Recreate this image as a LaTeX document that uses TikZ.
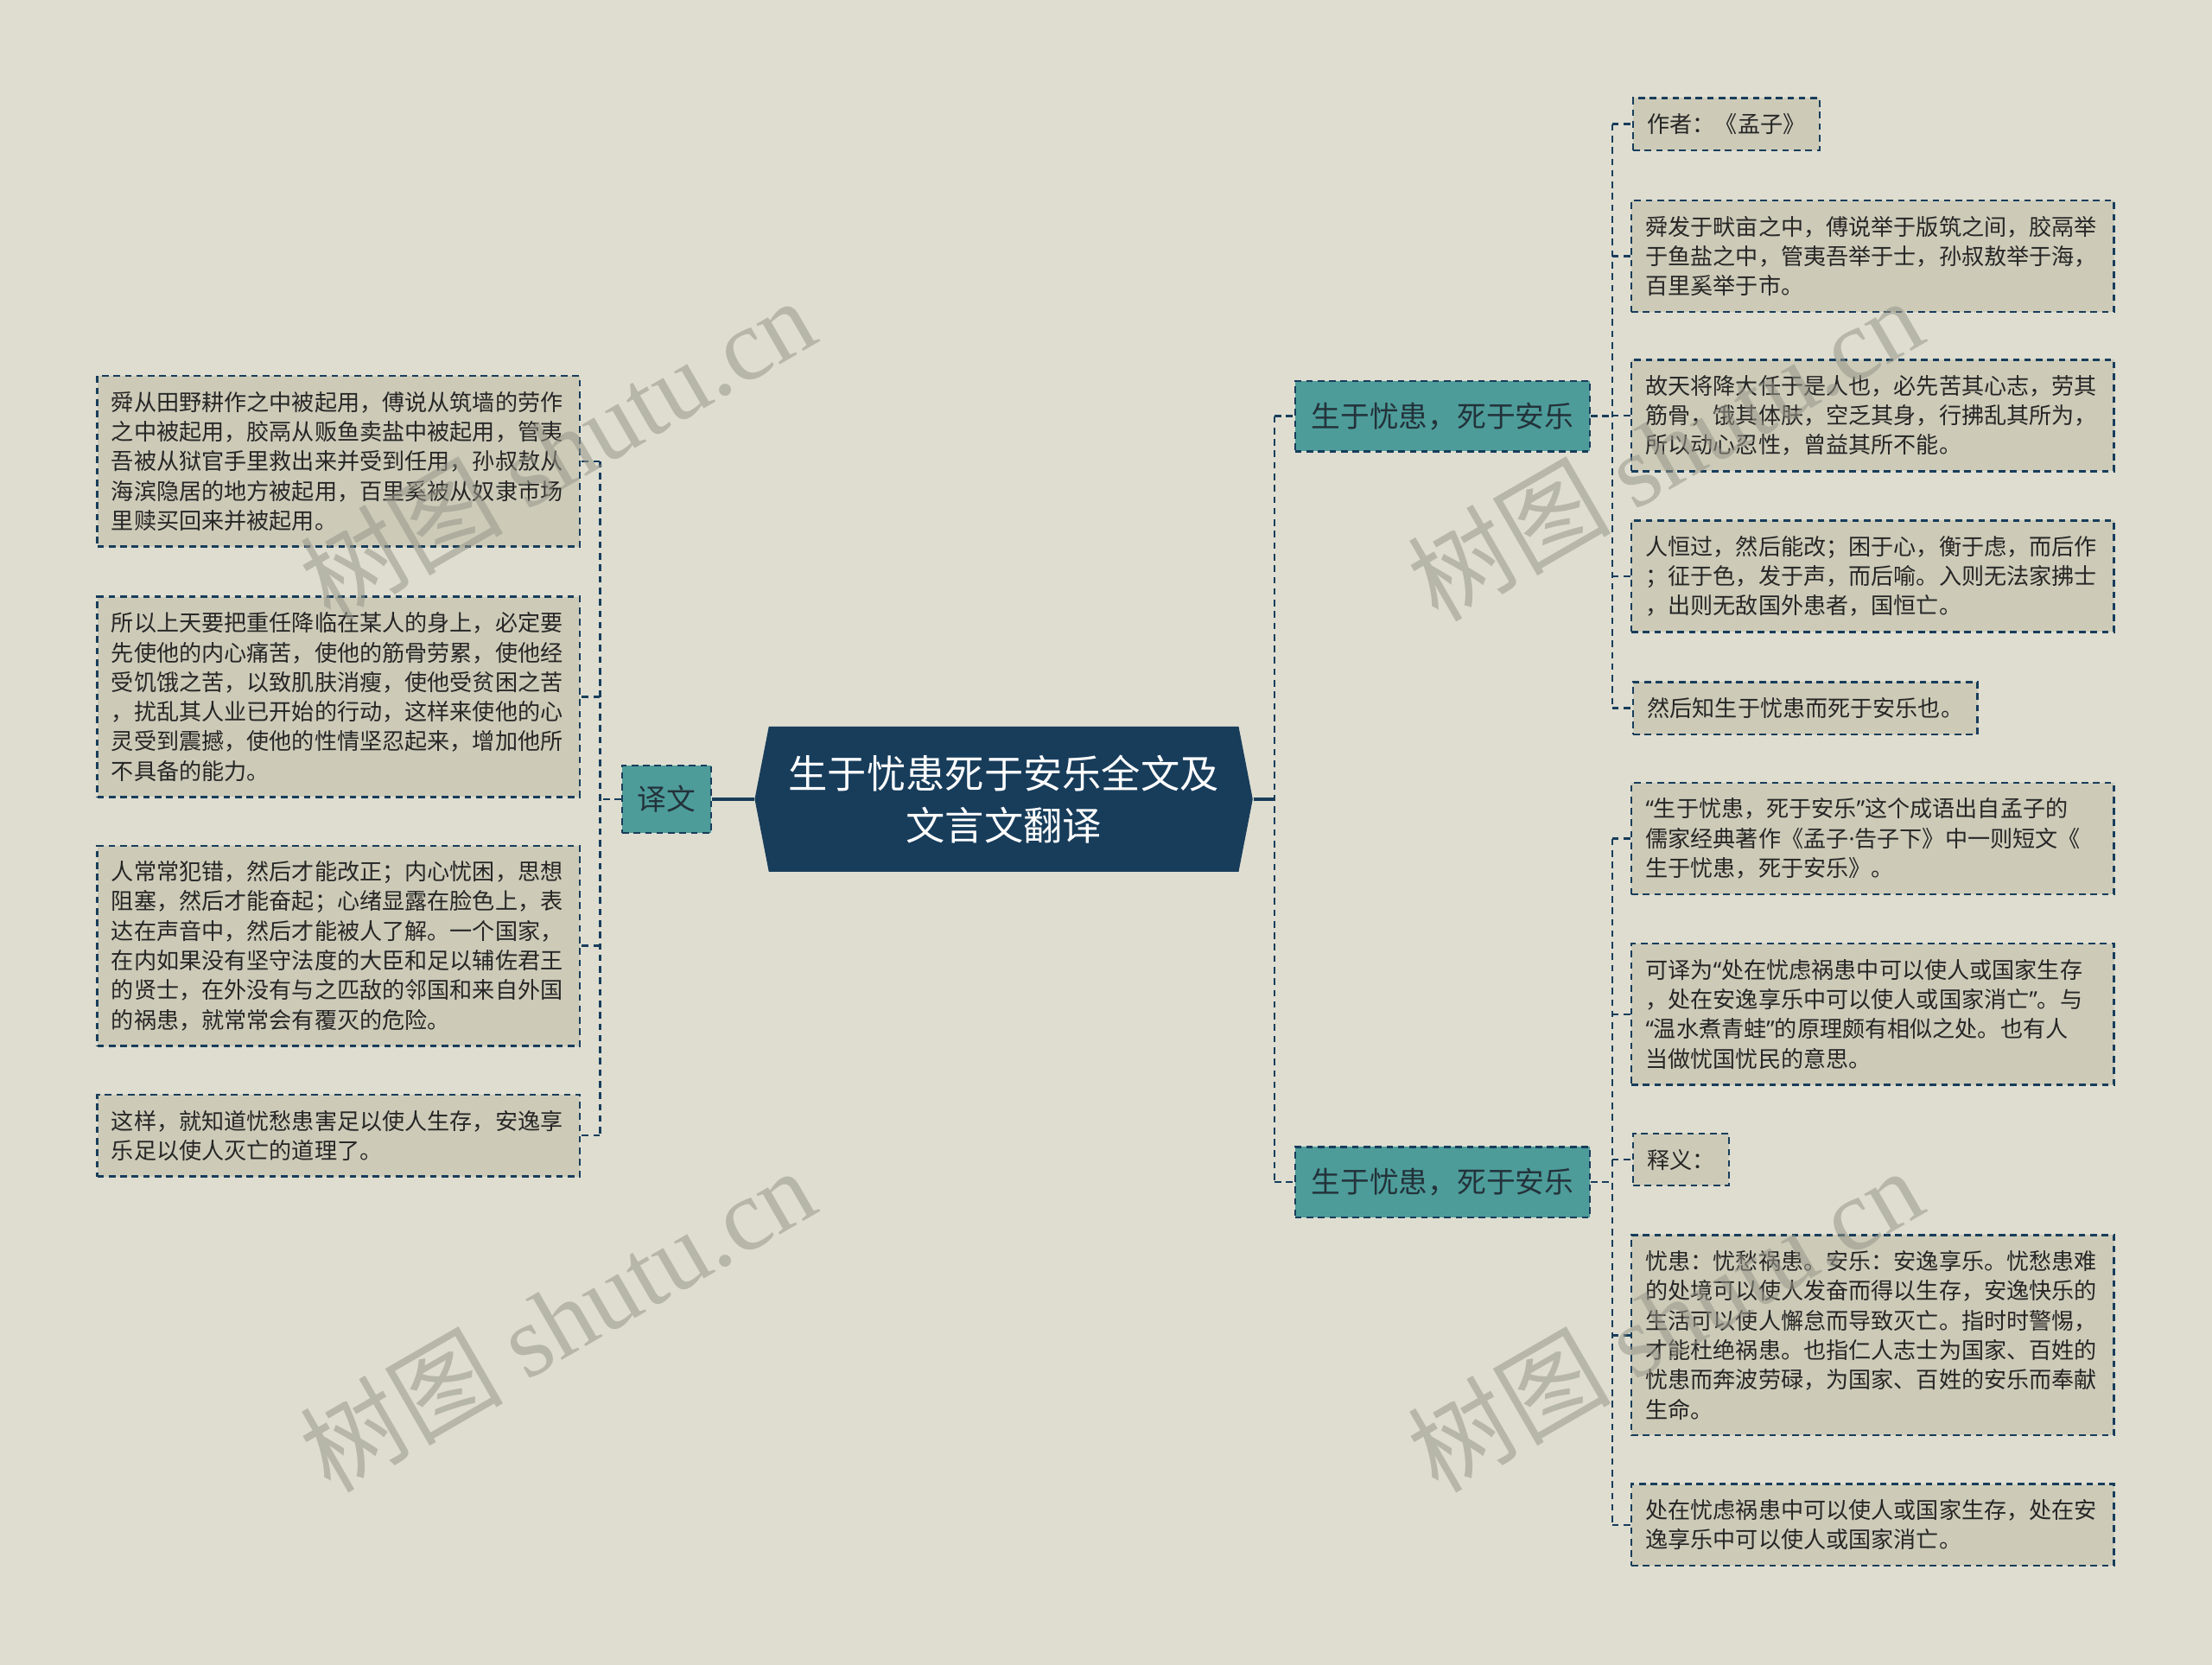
\documentclass[tikz,border=0pt]{standalone}
\usepackage{fontspec}
\newfontfamily\cjk{Noto Sans CJK SC}
\newfontfamily\wmlatin{Liberation Serif}
\newfontfamily\narrowpunct{Noto Sans}
\newcommand{\np}[1]{{\narrowpunct #1}}
\definecolor{pagebg}{RGB}{222,221,208}
\definecolor{leaffill}{RGB}{205,203,184}
\definecolor{tealfill}{RGB}{77,156,154}
\definecolor{navy}{RGB}{24,61,91}
\definecolor{inkdark}{RGB}{38,38,38}
\definecolor{topicink}{RGB}{35,50,58}
\definecolor{wmgray}{RGB}{150,150,138}

\tikzset{every picture/.style={line width=0.75pt}}
\tikzset{
  leaf/.style={draw=navy, line width=1.1pt, dash pattern=on 3.5pt off 2.6pt, fill=leaffill, text=inkdark,
    font=\cjk\fontsize{12}{15.75}\selectfont, inner xsep=7.5pt, inner ysep=0pt, align=left},
  leafwide/.style={leaf, text width=241.5pt},
  nlines/.style={minimum height={(21*#1+16)*0.75pt}},
  topic/.style={draw=navy, line width=1.1pt, dash pattern=on 3.5pt off 2.6pt, fill=tealfill, text=topicink,
    font=\cjk\fontsize{15.5}{18}\selectfont, minimum width=156.75pt, minimum height=37.5pt, inner sep=0pt},
  roottext/.style={text=white, font=\cjk\fontsize{20.8}{27.75}\selectfont, align=center,
    minimum width=264.75pt, minimum height=77.25pt, inner sep=0pt},
  link/.style={draw=navy, line width=1.1pt, dash pattern=on 3.5pt off 2.6pt},
  trunk/.style={draw=navy, line width=2.2pt},
  wmark/.style={text=wmgray, opacity=0.55, font=\cjk\fontsize{54}{60}\selectfont, inner sep=0pt}
}

\begin{document}
\begin{tikzpicture}[x=0.75pt,y=0.75pt,yscale=-1,xscale=1]
	%set diagram size: 1568 x 1180
	\path[fill=pagebg] (0,0) rectangle (1568,1180);

	%Shape: Polygon [id:root]
	\fill[navy] (545,515) -- (878,515) -- (888,566.5) -- (878,618) -- (545,618) -- (535,566.5) -- cycle;
	% Text Node
	\node[roottext] (root) at (711.5,566.5) {生于忧患死于安乐全文及\\文言文翻译};

	% Text Node
	\node[topic, minimum width=47.25pt, minimum height=36pt] (yiwen) at (472.5,566.5) {译文};
	% Text Node
	\node[topic] (fate1) at (1022.5,295) {生于忧患，死于安乐};
	% Text Node
	\node[topic] (fate2) at (1022.5,838) {生于忧患，死于安乐};

	% Text Node
	\node[leafwide, nlines=5] (yw1) at (240,327) {舜从田野耕作之中被起用，傅说从筑墙的劳作\\之中被起用，胶鬲从贩鱼卖盐中被起用，管夷\\吾被从狱官手里救出来并受到任用，孙叔敖从\\海滨隐居的地方被起用，百里奚被从奴隶市场\\里赎买回来并被起用。};
	% Text Node
	\node[leafwide, nlines=6] (yw2) at (240,494) {所以上天要把重任降临在某人的身上，必定要\\先使他的内心痛苦，使他的筋骨劳累，使他经\\受饥饿之苦，以致肌肤消瘦，使他受贫困之苦\\，扰乱其人业已开始的行动，这样来使他的心\\灵受到震撼，使他的性情坚忍起来，增加他所\\不具备的能力。};
	% Text Node
	\node[leafwide, nlines=6] (yw3) at (240,670.5) {人常常犯错，然后才能改正；内心忧困，思想\\阻塞，然后才能奋起；心绪显露在脸色上，表\\达在声音中，然后才能被人了解。一个国家，\\在内如果没有坚守法度的大臣和足以辅佐君王\\的贤士，在外没有与之匹敌的邻国和来自外国\\的祸患，就常常会有覆灭的危险。};
	% Text Node
	\node[leafwide, nlines=2] (yw4) at (240,805) {这样，就知道忧愁患害足以使人生存，安逸享\\乐足以使人灭亡的道理了。};

	% Text Node
	\node[leaf, nlines=1, anchor=west] (ya1) at (1157,88) {作者：《孟子》};
	% Text Node
	\node[leafwide, nlines=3] (ya2) at (1327.5,181.5) {舜发于畎亩之中，傅说举于版筑之间，胶鬲举\\于鱼盐之中，管夷吾举于士，孙叔敖举于海，\\百里奚举于市。};
	% Text Node
	\node[leafwide, nlines=3] (ya3) at (1327.5,294.5) {故天将降大任于是人也，必先苦其心志，劳其\\筋骨，饿其体肤，空乏其身，行拂乱其所为，\\所以动心忍性，曾益其所不能。};
	% Text Node
	\node[leafwide, nlines=3] (ya4) at (1327.5,408.5) {人恒过，然后能改；困于心，衡于虑，而后作\\；征于色，发于声，而后喻。入则无法家拂士\\，出则无敌国外患者，国恒亡。};
	% Text Node
	\node[leaf, nlines=1, anchor=west] (ya5) at (1157,502) {然后知生于忧患而死于安乐也。};

	% Text Node
	\node[leafwide, nlines=3] (yb1) at (1327.5,594.5) {\np{“}生于忧患，死于安乐\np{”}这个成语出自孟子的\\儒家经典著作《孟子\np{·}告子下》中一则短文《\\生于忧患，死于安乐》。};
	% Text Node
	\node[leafwide, nlines=4] (yb2) at (1327.5,719) {可译为\np{“}处在忧虑祸患中可以使人或国家生存\\，处在安逸享乐中可以使人或国家消亡\np{”}。与\\\np{“}温水煮青蛙\np{”}的原理颇有相似之处。也有人\\当做忧国忧民的意思。};
	% Text Node
	\node[leaf, nlines=1, anchor=west] (yb3) at (1157,822) {释义：};
	% Text Node
	\node[leafwide, nlines=6] (yb4) at (1327.5,946.5) {忧患：忧愁祸患。安乐：安逸享乐。忧愁患难\\的处境可以使人发奋而得以生存，安逸快乐的\\生活可以使人懈怠而导致灭亡。指时时警惕，\\才能杜绝祸患。也指仁人志士为国家、百姓的\\忧患而奔波劳碌，为国家、百姓的安乐而奉献\\生命。};
	% Text Node
	\node[leafwide, nlines=2] (yb5) at (1327.5,1081) {处在忧虑祸患中可以使人或国家生存，处在安\\逸享乐中可以使人或国家消亡。};

	%Straight Lines [id:left]
	\draw[trunk] (root.west) -- (yiwen.east);
	\draw[link] (yiwen.west) -- ++(-15,0) coordinate (lhub);
	\draw[link] (lhub |- yw1.east) -- (lhub |- yw4.east);
	\draw[link] (lhub |- yw1.east) -- (yw1.east);
	\draw[link] (lhub |- yw2.east) -- (yw2.east);
	\draw[link] (lhub |- yw3.east) -- (yw3.east);
	\draw[link] (lhub |- yw4.east) -- (yw4.east);

	%Straight Lines [id:right]
	\draw[trunk] (root.east) -- ++(15,0) coordinate (rhub);
	\draw[link] (rhub |- fate1.west) -- (rhub |- fate2.west);
	\draw[link] (rhub |- fate1.west) -- (fate1.west);
	\draw[link] (rhub |- fate2.west) -- (fate2.west);

	%Straight Lines [id:upper]
	\draw[link] (fate1.east) -- ++(15,0) coordinate (ahub);
	\draw[link] (ahub |- ya1.west) -- (ahub |- ya5.west);
	\draw[link] (ahub |- ya1.west) -- (ya1.west);
	\draw[link] (ahub |- ya2.west) -- (ya2.west);
	\draw[link] (ahub |- ya3.west) -- (ya3.west);
	\draw[link] (ahub |- ya4.west) -- (ya4.west);
	\draw[link] (ahub |- ya5.west) -- (ya5.west);

	%Straight Lines [id:lower]
	\draw[link] (fate2.east) -- ++(15,0) coordinate (bhub);
	\draw[link] (bhub |- yb1.west) -- (bhub |- yb5.west);
	\draw[link] (bhub |- yb1.west) -- (yb1.west);
	\draw[link] (bhub |- yb2.west) -- (yb2.west);
	\draw[link] (bhub |- yb3.west) -- (yb3.west);
	\draw[link] (bhub |- yb4.west) -- (yb4.west);
	\draw[link] (bhub |- yb5.west) -- (yb5.west);

	% Text Node (watermarks)
	\node[wmark, rotate=30] (wm1) at (395,318) {树图 {\wmlatin shutu.cn}};
	\node[wmark, rotate=30] (wm2) at (395,935) {树图 {\wmlatin shutu.cn}};
	\node[wmark, rotate=30] (wm3) at (1180,318) {树图 {\wmlatin shutu.cn}};
	\node[wmark, rotate=30] (wm4) at (1180,935) {树图 {\wmlatin shutu.cn}};

\end{tikzpicture}
\end{document}
